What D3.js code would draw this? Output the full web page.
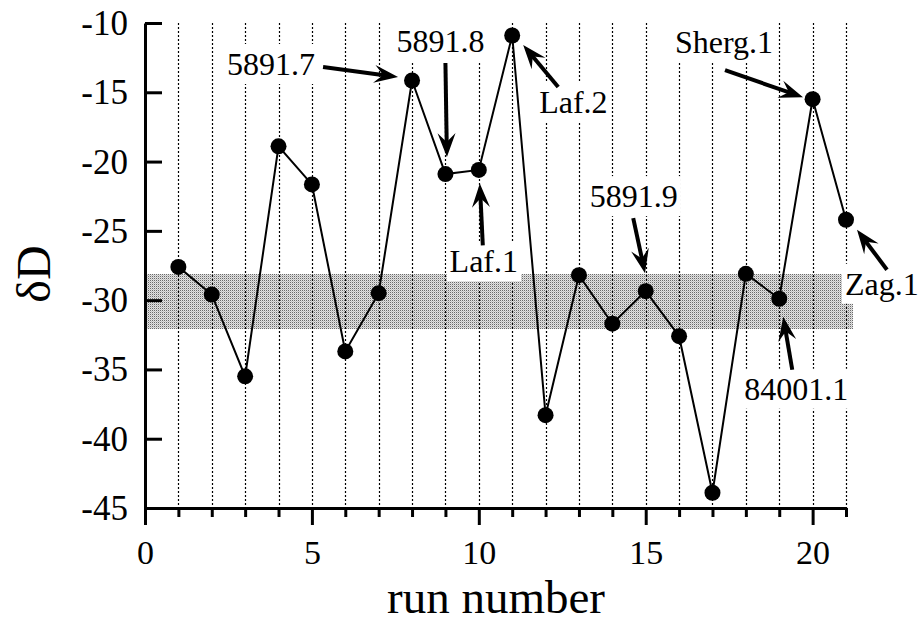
<!DOCTYPE html>
<html>
<head>
<meta charset="utf-8">
<script src="https://cdn.jsdelivr.net/npm/d3@7"></script>
<style>
  html, body { margin: 0; padding: 0; background: #fff; }
  svg { display: block; font-family: "Liberation Serif", "Times New Roman", serif; }
</style>
</head>
<body>
<svg id="chart" width="922" height="623"></svg>
<script>
// Run-by-run deuterium values
const runNumbers = [1, 2, 3, 4, 5, 6, 7, 8, 9, 10, 11, 12, 13, 14, 15, 16, 17, 18, 19, 20, 21];
const deltaD = [-27.6, -29.6, -35.5, -18.9, -21.65, -33.7, -29.5, -14.15, -20.9, -20.6, -10.9,
                -38.3, -28.2, -31.7, -29.35, -32.6, -43.9, -28.1, -29.9, -15.5, -24.2];

// Shaded reference band (low, high) and its right end in run units
const bandRange = [-32.1, -28.1];
const bandEnd = 21.2;

// Axis ticks
const xMajorTicks = [0, 5, 10, 15, 20];
const xMinorTicks = [1, 2, 3, 4, 6, 7, 8, 9, 11, 12, 13, 14, 16, 17, 18, 19, 21];
const yTicks = [-10, -15, -20, -25, -30, -35, -40, -45];

// Labelled runs
const noteRuns = [8, 9, 10, 11, 15, 19, 20, 21];
const noteLabels = ["5891.7", "5891.8", "Laf.1", "Laf.2", "5891.9", "84001.1", "Sherg.1", "Zag.1"];

const serif = "'Liberation Serif', 'Times New Roman', serif";
const svg = d3.select("#chart");

const x = d3.scaleLinear().domain([0, 21]).range([145, 846]);
const y = d3.scaleLinear().domain([-45, -10]).range([508, 23]);

// halftone fill for the band
const defs = svg.append("defs");
const pat = defs.append("pattern").attr("id", "halftone")
  .attr("patternUnits", "userSpaceOnUse").attr("width", 2).attr("height", 2);
pat.append("rect").attr("width", 2).attr("height", 2).attr("fill", "#e2e2e2");
pat.append("rect").attr("x", 0).attr("y", 0).attr("width", 1).attr("height", 1).attr("fill", "#6a6a6a");
pat.append("rect").attr("x", 1).attr("y", 1).attr("width", 1).attr("height", 1).attr("fill", "#c0c0c0");

svg.append("rect")
  .attr("x", x(0)).attr("y", y(bandRange[1]))
  .attr("width", x(bandEnd) - x(0))
  .attr("height", y(bandRange[0]) - y(bandRange[1]))
  .attr("fill", "url(#halftone)")
  .attr("shape-rendering", "crispEdges");

// dotted guide at every run
svg.append("g").selectAll("line").data(runNumbers).join("line")
  .attr("x1", d => Math.round(x(d)) + 0.5).attr("x2", d => Math.round(x(d)) + 0.5)
  .attr("y1", y(-10)).attr("y2", y(-45))
  .attr("stroke", "#000").attr("stroke-width", 1.2)
  .attr("stroke-dasharray", "2,2");

// annotation placement relative to each labelled point (pixels)
const noteLayout = {
  "5891.7":  { anchor: "end",    tx: -97,  ty: -5.5, ax: -89,  ay: -13.5, bx: -14,  by: -3.5 },
  "5891.8":  { anchor: "middle", tx: -5,   ty: -122, ax: 0,    ay: -111,  bx: 1.5,  by: -17 },
  "Laf.1":   { anchor: "middle", tx: 5,    ty: 102.5, ax: 4,   ay: 75.5,  bx: 1,    by: 13.5 },
  "Laf.2":   { anchor: "start",  tx: 27,   ty: 77.5, ax: 46,   ay: 51.5,  bx: 11,   by: 9.5 },
  "5891.9":  { anchor: "end",    tx: 32,   ty: -84,  ax: -12.5, ay: -73,  bx: -0.7, by: -18 },
  "84001.1": { anchor: "middle", tx: 17,   ty: 101,  ax: 13,   ay: 71,    bx: 4,    by: 18 },
  "Sherg.1": { anchor: "end",    tx: -39.6, ty: -46, ax: -87.6, ay: -29,  bx: -9.6, by: -2 },
  "Zag.1":   { anchor: "start",  tx: -1,   ty: 75,   ax: 41,   ay: 50,    bx: 11,   by: 10 }
};

const notes = noteRuns.map((r, i) => {
  const px = x(r), py = y(deltaD[runNumbers.indexOf(r)]);
  return { label: noteLabels[i], px, py, ...noteLayout[noteLabels[i]] };
});

// white boxes behind the labels (cover grid and band)
const boxG = svg.append("g");
const noteText = svg.append("g").selectAll("text").data(notes).join("text")
  .attr("x", d => d.px + d.tx).attr("y", d => d.py + d.ty)
  .attr("text-anchor", d => d.anchor)
  .attr("font-family", serif)
  .attr("font-size", 32).attr("fill", "#000")
  .text(d => d.label);
noteText.each(function () {
  const b = this.getBBox();
  boxG.append("rect")
    .attr("x", b.x - 3).attr("y", b.y - 2)
    .attr("width", b.width + 6).attr("height", b.height + 4)
    .attr("fill", "#fff");
});

// data line and markers
svg.append("path")
  .datum(runNumbers.map((r, i) => [r, deltaD[i]]))
  .attr("fill", "none").attr("stroke", "#000").attr("stroke-width", 2)
  .attr("d", d3.line().x(d => x(d[0])).y(d => y(d[1])));

svg.append("g").selectAll("circle").data(runNumbers).join("circle")
  .attr("cx", d => x(d)).attr("cy", (d, i) => y(deltaD[i]))
  .attr("r", 8).attr("fill", "#000");

// arrows with notched heads
function arrowPath(x1, y1, x2, y2) {
  const L = 24, W = 9, N = 15;
  const dx = x2 - x1, dy = y2 - y1, len = Math.hypot(dx, dy);
  const ux = dx / len, uy = dy / len, nx = -uy, ny = ux;
  const bx = x2 - ux * L, by = y2 - uy * L;
  const cx = x2 - ux * N, cy = y2 - uy * N;
  return `M${x2},${y2}L${bx + nx * W},${by + ny * W}L${cx},${cy}L${bx - nx * W},${by - ny * W}Z`;
}
const arrowG = svg.append("g");
notes.forEach(d => {
  const x1 = d.px + d.ax, y1 = d.py + d.ay, x2 = d.px + d.bx, y2 = d.py + d.by;
  const len = Math.hypot(x2 - x1, y2 - y1);
  const ux = (x2 - x1) / len, uy = (y2 - y1) / len;
  arrowG.append("line")
    .attr("x1", x1).attr("y1", y1)
    .attr("x2", x2 - ux * 14).attr("y2", y2 - uy * 14)
    .attr("stroke", "#000").attr("stroke-width", 4);
  arrowG.append("path").attr("d", arrowPath(x1, y1, x2, y2)).attr("fill", "#000");
});
noteText.raise();

// axes
const axisStyle = g => {
  g.attr("font-family", serif);
  g.selectAll("path.domain").attr("stroke-width", 3).attr("stroke", "#000");
  g.selectAll(".tick line").attr("stroke-width", 3).attr("stroke", "#000");
  g.selectAll("text").attr("font-family", serif).attr("fill", "#000");
};

svg.append("g").attr("transform", `translate(0,${y(-45)})`)
  .call(d3.axisBottom(x).tickValues(xMinorTicks).tickSizeInner(9).tickSizeOuter(0).tickFormat(""))
  .call(axisStyle);

svg.append("g").attr("transform", `translate(0,${y(-45)})`)
  .call(d3.axisBottom(x).tickValues(xMajorTicks).tickSizeInner(17).tickSizeOuter(0).tickFormat(d3.format("d")))
  .call(axisStyle)
  .call(g => g.selectAll("text").attr("font-size", 34).attr("y", 56).attr("dy", 0));

svg.append("g").attr("transform", `translate(${x(0)},0)`)
  .call(d3.axisLeft(y).tickValues(yTicks).tickSizeInner(-17).tickSizeOuter(0).tickPadding(17)
    .tickFormat(d => String(d)))
  .call(axisStyle)
  .call(g => g.selectAll("text").attr("font-size", 35).attr("dy", "0.33em"));

// axis titles
svg.append("text")
  .attr("x", 496).attr("y", 612.5)
  .attr("text-anchor", "middle").attr("font-family", serif)
  .attr("font-size", 47).attr("fill", "#000")
  .text("run number");

svg.append("text")
  .attr("transform", "translate(50,274) rotate(-90)")
  .attr("text-anchor", "middle").attr("font-family", serif)
  .attr("font-size", 48).attr("fill", "#000")
  .text("δD");
</script>
</body>
</html>
